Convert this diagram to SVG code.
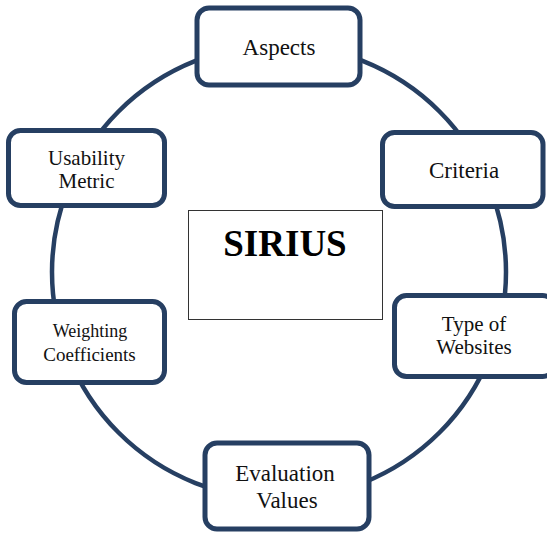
<svg xmlns="http://www.w3.org/2000/svg" width="547" height="533" viewBox="0 0 547 533">
  <style>
    .ring { fill: none; stroke: #263f62; stroke-width: 4.5; }
    .box { fill: #ffffff; stroke: #263f62; stroke-width: 5; }
    .core { fill: #ffffff; stroke: #333333; stroke-width: 1; }
    .lbl { font-family: "Liberation Serif", "Times New Roman", serif; fill: #111111; text-anchor: middle; }
    .title { font-family: "Liberation Serif", "Times New Roman", serif; font-weight: bold; font-size: 37px; fill: #000000; text-anchor: middle; }
  </style>
  <rect width="547" height="533" fill="#ffffff"/>

  <!-- ring connecting the components -->
  <g id="connectors">
    <ellipse class="ring" cx="279" cy="272" rx="227" ry="227"/>
  </g>

  <g id="sirius">
    <rect class="core" x="188.5" y="210.5" width="194" height="109"/>
    <text class="title" x="285" y="256">SIRIUS</text>
  </g>

  <g id="aspects">
    <rect class="box" x="197" y="8" width="163" height="77" rx="12"/>
    <text class="lbl" x="279" y="55" font-size="23">Aspects</text>
  </g>

  <g id="criteria">
    <rect class="box" x="382.5" y="132.5" width="160.5" height="74" rx="12"/>
    <text class="lbl" x="464" y="178" font-size="23">Criteria</text>
  </g>

  <g id="type-of-websites">
    <rect class="box" x="394.5" y="295.5" width="160" height="81" rx="12"/>
    <text class="lbl" x="474" y="331" font-size="21">Type of</text>
    <text class="lbl" x="474" y="354" font-size="21">Websites</text>
  </g>

  <g id="evaluation-values">
    <rect class="box" x="205" y="443" width="164" height="86" rx="12"/>
    <text class="lbl" x="285" y="481" font-size="23">Evaluation</text>
    <text class="lbl" x="287" y="508" font-size="23">Values</text>
  </g>

  <g id="weighting-coefficients">
    <rect class="box" x="14.5" y="301.5" width="150" height="81" rx="12"/>
    <text class="lbl" x="90" y="337" font-size="18">Weighting</text>
    <text class="lbl" x="89.5" y="361" font-size="19">Coefficients</text>
  </g>

  <g id="usability-metric">
    <rect class="box" x="8.5" y="130.5" width="156" height="75" rx="12"/>
    <text class="lbl" x="86.5" y="165" font-size="21">Usability</text>
    <text class="lbl" x="86.5" y="188" font-size="21">Metric</text>
  </g>
</svg>
